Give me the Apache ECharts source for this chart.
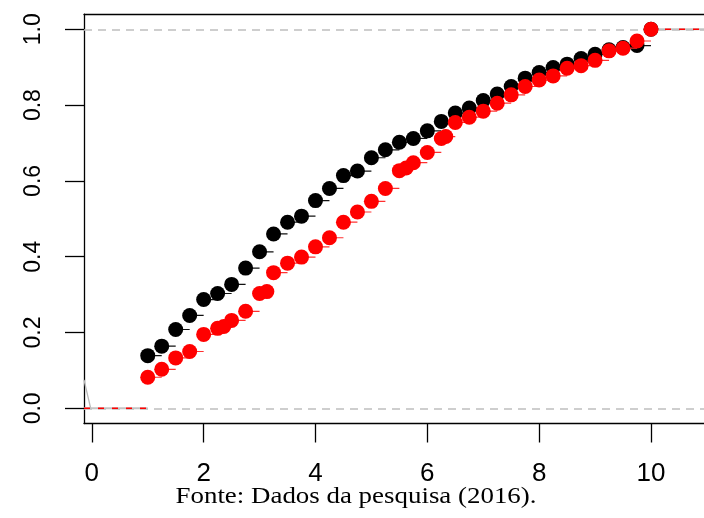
<!DOCTYPE html>
<html>
<head>
<meta charset="utf-8">
<script src="https://cdn.jsdelivr.net/npm/echarts@6/dist/echarts.min.js"></script>
<style>
html,body{margin:0;padding:0;background:#fff;}
#chart{width:704px;height:518px;}
</style>
</head>
<body>
<div id="chart"></div>
<script>
// ---- data ----
const blackX = [1,1.25,1.5,1.75,2,2.25,2.5,2.75,3,3.25,3.5,3.75,4,4.25,4.5,4.75,5,5.25,5.5,5.75,6,6.25,6.5,6.75,7,7.25,7.5,7.75,8,8.25,8.5,8.75,9,9.25,9.5,9.75,10];
const blackY = [0.139,0.164,0.208,0.245,0.287,0.303,0.327,0.370,0.413,0.460,0.491,0.507,0.548,0.580,0.614,0.626,0.661,0.682,0.702,0.712,0.732,0.757,0.779,0.792,0.812,0.829,0.849,0.871,0.886,0.899,0.908,0.923,0.934,0.946,0.952,0.957,1.000];
const redX = [1,1.25,1.5,1.75,2,2.25,2.36,2.5,2.75,3,3.13,3.25,3.5,3.75,4,4.25,4.5,4.75,5,5.25,5.5,5.62,5.75,6,6.25,6.33,6.5,6.75,7,7.25,7.5,7.75,8,8.25,8.5,8.75,9,9.25,9.5,9.75,10];
const redY = [0.082,0.103,0.133,0.150,0.195,0.211,0.216,0.232,0.256,0.303,0.308,0.358,0.383,0.399,0.426,0.450,0.491,0.518,0.546,0.580,0.627,0.634,0.648,0.675,0.712,0.717,0.754,0.768,0.784,0.805,0.827,0.849,0.866,0.877,0.897,0.904,0.918,0.943,0.950,0.969,1.000];
const artifactX = [-0.14, -0.02];
const artifactY = [0.075, 0.0];
const xTicks = [0,2,4,6,8,10];
const yTicks = [0,0.2,0.4,0.6,0.8,1.0];
const refLines = [0,1];
const caption = 'Fonte: Dados da pesquisa (2016).';

const X_MIN = -0.14, X_MAX = 10.948, Y_MIN = -0.04, Y_MAX = 1.04;

function stepSegments(xs, ys){
  const segs = [];
  for (let i = 0; i < xs.length - 1; i++) segs.push([xs[i], ys[i], xs[i+1]]);
  return segs;
}
function tails(xs){
  return [[X_MIN, 0, xs[0]], [xs[xs.length-1], 1, X_MAX]];
}
function segRenderer(color, width, dash){
  return function(params, api){
    const p0 = api.coord([api.value(0), api.value(1)]);
    const p1 = api.coord([api.value(2), api.value(1)]);
    return {type:'line', shape:{x1:p0[0],y1:p0[1],x2:p1[0],y2:p1[1]},
      style:{stroke:color, lineWidth:width, lineDash:dash || null}};
  };
}

const chart = echarts.init(document.getElementById('chart'), null, {renderer:'canvas'});
chart.setOption({
  animation:false,
  backgroundColor:'#fff',
  graphic:[{type:'text', x:356, y:485, scaleX:1.17, originX:0, silent:true,
    style:{text:caption, align:'center', verticalAlign:'top', fill:'#000',
      font:'23px "Liberation Serif"'}}],
  grid:{left:84, top:14.1, right:0, bottom:94.5, show:false},
  xAxis:[
    {type:'value', min:X_MIN, max:X_MAX, position:'bottom',
      axisLine:{show:true, onZero:false, lineStyle:{color:'#000', width:1.3}},
      axisTick:{show:true, inside:false, length:19, customValues:xTicks, lineStyle:{color:'#000', width:1.3}},
      axisLabel:{customValues:xTicks, margin:37, fontFamily:'Liberation Sans', fontSize:26, color:'#000'},
      splitLine:{show:false}},
    {type:'value', min:X_MIN, max:X_MAX, position:'top',
      axisLine:{show:true, onZero:false, lineStyle:{color:'#000', width:1.3}},
      axisTick:{show:false}, axisLabel:{show:false}, splitLine:{show:false}}
  ],
  yAxis:{type:'value', min:Y_MIN, max:Y_MAX, position:'left',
    axisLine:{show:true, onZero:false, lineStyle:{color:'#000', width:1.3}},
    axisTick:{show:true, inside:false, length:19, customValues:yTicks, lineStyle:{color:'#000', width:1.3}},
    axisLabel:{customValues:yTicks, rotate:90, margin:39, fontFamily:'Liberation Sans', fontSize:23, color:'#000',
      formatter:v => Number(v).toFixed(1)},
    splitLine:{show:false}},
  series:[
    {type:'line', name:'ref', data:[], silent:true, z:1,
      markLine:{symbol:'none', silent:true, label:{show:false},
        lineStyle:{color:'#bebebe', type:[8,6], width:1.5},
        data:refLines.map(v => ({yAxis:v}))}},
    {type:'line', name:'artifact', data:artifactX.map((x,i)=>[x, artifactY[i]]), symbol:'none',
      lineStyle:{color:'#b8b8b8', width:1.3}, z:2, silent:true},
    {type:'custom', name:'tailsBlack', data:tails(blackX), renderItem:segRenderer('#c4c4c4', 2), clip:true, z:3},
    {type:'custom', name:'segBlack', data:stepSegments(blackX, blackY), renderItem:segRenderer('#111', 1.2), clip:true, z:3},
    {type:'scatter', name:'black', data:blackX.map((x,i)=>[x, blackY[i]]), symbol:'circle', symbolSize:15,
      itemStyle:{color:'#000', opacity:1}, z:4},
    {type:'custom', name:'tailsRed', data:tails(redX), renderItem:segRenderer('#ff0000', 1.5, [6,8]), clip:true, z:5},
    {type:'custom', name:'segRed', data:stepSegments(redX, redY), renderItem:segRenderer('#ff3030', 1.2), clip:true, z:5},
    {type:'scatter', name:'red', data:redX.map((x,i)=>[x, redY[i]]), symbol:'circle', symbolSize:15,
      itemStyle:{color:'#ff0000', opacity:1}, z:6}
  ]
});
</script>
</body>
</html>
